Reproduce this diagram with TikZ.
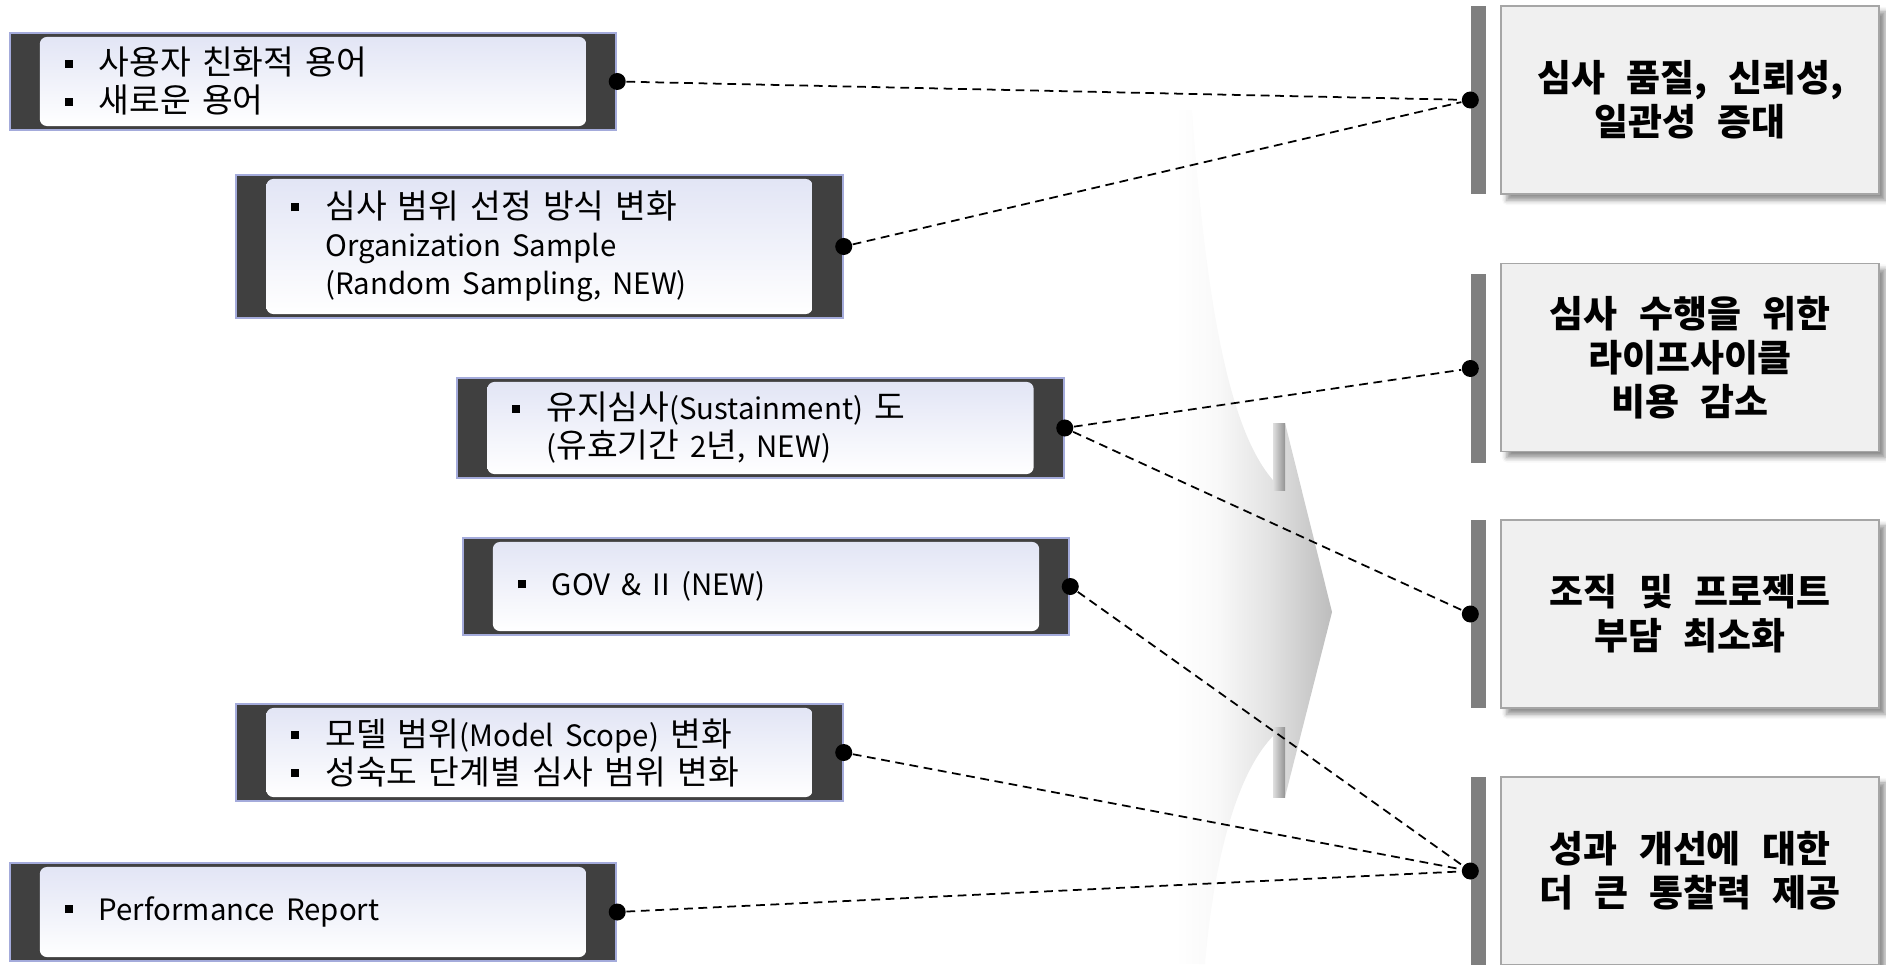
\documentclass[tikz,border=0pt]{standalone}
\usepackage{fontspec}
\setmainfont{Noto Sans CJK KR}
\newfontfamily\resfont{Noto Sans CJK KR}[WordSpace=2.5]
\newfontfamily\latf{Noto Sans CJK KR}[Scale=0.88]
\usetikzlibrary{shadows.blur}

\definecolor{boxdark}{HTML}{404040}
\definecolor{boxedge}{HTML}{A4ABDB}
\definecolor{boxtop}{HTML}{E2E5F5}
\definecolor{resfill}{HTML}{F0F0F0}
\definecolor{resedge}{HTML}{A6A6A6}
\definecolor{gbarfill}{HTML}{7F7F7F}

\pgfdeclarehorizontalshading{arrowfade}{100bp}{color(0bp)=(white); color(25bp)=(white); color(38bp)=(white); color(48bp)=(gray!5); color(60bp)=(gray!22); color(75bp)=(gray!52); color(100bp)=(gray!52)}

\newcommand{\sqbul}{\rule[0.22em]{0.08cm}{0.08cm}}
\newcommand{\itembul}{\makebox[0.34cm][l]{\sqbul}}
\newcommand{\itemcont}{\hspace*{0.34cm}}
\newcommand{\lat}[1]{{\latf #1}}

\tikzset{
  outbox/.style={draw=boxedge, fill=boxdark, line width=0.6pt, minimum width=6.06cm, inner sep=0pt},
  inbox/.style={rounded corners=0.07cm, top color=boxtop, bottom color=white, minimum width=5.46cm,
    text width=4.96cm, inner xsep=0.25cm, inner ysep=0pt, align=left, font=\fontsize{9.5}{10.8}\selectfont},
  resbox/.style={draw=resedge, fill=resfill, line width=0.5pt, minimum width=3.78cm, minimum height=1.88cm,
    align=center, font=\resfont\bfseries\fontsize{10.5}{12.6}\selectfont,
    blur shadow={shadow xshift=0.06cm, shadow yshift=-0.06cm, shadow blur radius=0.05cm, shadow opacity=45}},
  gbar/.style={fill=gbarfill, minimum width=0.15cm, minimum height=1.88cm, inner sep=0pt},
  joint/.style={circle, fill=black, inner sep=0pt, minimum size=0.17cm},
  dashlink/.style={line width=0.5pt, dash pattern=on 2.5pt off 1.6pt}
}

\begin{document}
\begin{tikzpicture}[x=0.01cm, y=-0.01cm]
\useasboundingbox (0,0) rectangle (1886,964);

% background arrow
\shade[shading=arrowfade] (1120,110) -- (1192,110) .. controls (1208,330) and (1235,450) .. (1283,490)
  -- (1285,423) -- (1332,612) -- (1285,797) -- (1283,727) .. controls (1240,760) and (1215,850) .. (1205,964)
  -- (1120,964) -- cycle;
\shade[left color=gray!25, right color=gray!85] (1273,423) rectangle (1285,490);
\shade[left color=gray!25, right color=gray!85] (1273,727) rectangle (1285,797);

% changes
\node[outbox, minimum height=0.97cm] (b1) at (313,81.5) {};
\node[inbox, minimum height=0.89cm] (t1) at (b1) {\itembul 사용자 친화적 용어\\\itembul 새로운 용어};

\node[outbox, minimum height=1.43cm] (b2) at (539.5,246.5) {};
\node[inbox, minimum height=1.35cm] (t2) at (b2) {\itembul 심사 범위 선정 방식 변화\\\itemcont \lat{Organization Sample}\\\itemcont \lat{(Random Sampling, NEW)}};

\node[outbox, minimum height=1.00cm] (b3) at (760.5,428) {};
\node[inbox, minimum height=0.92cm] (t3) at (b3) {\itembul 유지심사\lat{(Sustainment)} 도\\\itemcont \lat{(}유효기간 \lat{2}년\lat{, NEW)}};

\node[outbox, minimum height=0.97cm] (b4) at (766,586.5) {};
\node[inbox, minimum height=0.89cm] (t4) at (b4) {\itembul \lat{GOV \& II (NEW)}};

\node[outbox, minimum height=0.97cm] (b5) at (539.5,752.5) {};
\node[inbox, minimum height=0.89cm] (t5) at (b5) {\itembul 모델 범위\lat{(Model Scope)} 변화\\\itembul 성숙도 단계별 심사 범위 변화};

\node[outbox, minimum height=0.98cm] (b6) at (313,912) {};
\node[inbox, minimum height=0.90cm] (t6) at (b6) {\itembul \lat{Performance Report}};

% benefits
\node[gbar] (g1) at (1478.5,100) {};
\node[resbox] (r1) at (1690,100) {심사 품질, 신뢰성,\\일관성 증대};
\node[gbar] (g2) at (1478.5,368.5) {};
\node[resbox] (r2) at (1690,357.5) {심사 수행을 위한\\라이프사이클\\비용 감소};
\node[gbar] (g3) at (1478.5,614) {};
\node[resbox] (r3) at (1690,614) {조직 및 프로젝트\\부담 최소화};
\node[gbar] (g4) at (1478.5,871) {};
\node[resbox] (r4) at (1690,871) {성과 개선에 대한\\더 큰 통찰력 제공};

% joints
\foreach \i in {1,...,6} \node[joint] (p\i) at (b\i.east) {};
\foreach \i in {1,...,4} \node[joint] (q\i) at (g\i.west) {};

% links
\draw[dashlink] (p1) -- (q1);
\draw[dashlink] (p2) -- (q1);
\draw[dashlink] (p3) -- (q2);
\draw[dashlink] (p3) -- (q3);
\draw[dashlink] (p4) -- (q4);
\draw[dashlink] (p5) -- (q4);
\draw[dashlink] (p6) -- (q4);
\end{tikzpicture}
\end{document}
